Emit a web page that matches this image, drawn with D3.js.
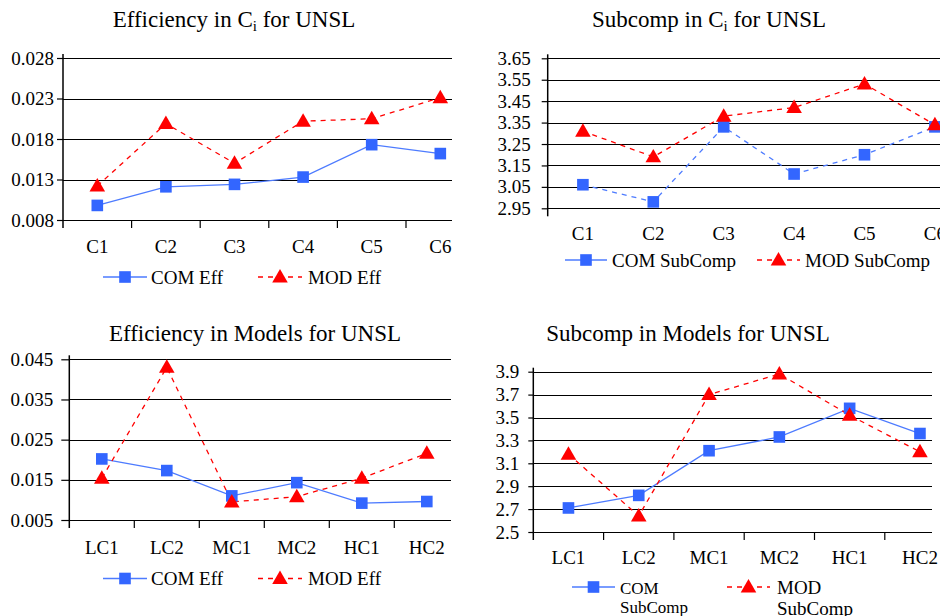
<!DOCTYPE html>
<html>
<head>
<meta charset="utf-8">
<script src="https://cdn.jsdelivr.net/npm/d3@7"></script>
</head>
<body style="margin:0;background:#fff">
<svg id="chart" width="940" height="616" style="display:block"></svg>
<script>
// ---------- data ----------
const catsC = ["C1", "C2", "C3", "C4", "C5", "C6"];
const catsM = ["LC1", "LC2", "MC1", "MC2", "HC1", "HC2"];

const effCiCOM = [0.0098, 0.0121, 0.0124, 0.0133, 0.0173, 0.0162];
const effCiMOD = [0.0122, 0.0199, 0.0150, 0.0202, 0.0205, 0.0231];

const subCiCOM = [3.06, 2.98, 3.33, 3.11, 3.20, 3.33];
const subCiMOD = [3.31, 3.19, 3.38, 3.42, 3.53, 3.34];

const effMCOM = [0.0202, 0.0173, 0.0110, 0.0143, 0.0092, 0.0096];
const effMMOD = [0.0154, 0.0430, 0.0095, 0.0108, 0.0154, 0.0216];

const subMCOM = [2.71, 2.82, 3.21, 3.33, 3.58, 3.36];
const subMMOD = [3.18, 2.64, 3.70, 3.88, 3.52, 3.20];

const effCiTicks = [0.008, 0.013, 0.018, 0.023, 0.028];
const subCiTicks = [2.95, 3.05, 3.15, 3.25, 3.35, 3.45, 3.55, 3.65];
const effMTicks = [0.005, 0.015, 0.025, 0.035, 0.045];
const subMTicks = [2.5, 2.7, 2.9, 3.1, 3.3, 3.5, 3.7, 3.9];

const titles = [
  ["Efficiency in C", "i", " for UNSL"],
  ["Subcomp in C", "i", " for UNSL"],
  ["Efficiency in Models for UNSL"],
  ["Subcomp in Models for UNSL"]
];
const legendCOM = ["COM Eff", "COM SubComp", "COM Eff", "COM|SubComp"];
const legendMOD = ["MOD Eff", "MOD SubComp", "MOD Eff", "MOD|SubComp"];

// ---------- panels (layout) ----------
const BLUE = "#3366ff", BLUE_LINE = "#4d7bff", RED = "#ff0000";
const FONT = "'Liberation Serif'";

const panels = [
  { cats: catsC, com: effCiCOM, mod: effCiMOD, ticks: effCiTicks, fmt: d3.format(".3f"),
    axisX: 63, yTop: 58, yBot: 220, step: 68.6, gridRight: 452,
    tickLen: 6, tickPad: 3, xTicks: true, catPad: 19.5, comDash: null,
    title: titles[0], titleX: 234, titleY: 27,
    leg: { y: 277, comX1: 103, comX2: 147, modX1: 258, modX2: 302, comText: 151, modText: 308, fs: 19 } },
  { cats: catsC, com: subCiCOM, mod: subCiMOD, ticks: subCiTicks, fmt: d3.format(".2f"),
    axisX: 547.7, yTop: 58.3, yBot: 208.3, step: 70.4, gridRight: 980,
    tickLen: 6, tickPad: 11, xTicks: false, catPad: 17.8, comDash: "5,5",
    title: titles[1], titleX: 709, titleY: 27,
    leg: { y: 260, comX1: 565, comX2: 607, modX1: 757, modX2: 800, comText: 612, modText: 805, fs: 19 } },
  { cats: catsM, com: effMCOM, mod: effMMOD, ticks: effMTicks, fmt: d3.format(".3f"),
    axisX: 69.3, yTop: 359.3, yBot: 520, step: 65, gridRight: 451,
    tickLen: 8, tickPad: 8, xTicks: true, catPad: 21, comDash: null,
    title: titles[2], titleX: 255, titleY: 341,
    leg: { y: 578.5, comX1: 103, comX2: 147, modX1: 258, modX2: 302, comText: 151, modText: 308, fs: 19 } },
  { cats: catsM, com: subMCOM, mod: subMMOD, ticks: subMTicks, fmt: d3.format(".1f"),
    axisX: 533.3, yTop: 371.7, yBot: 532, step: 70.3, gridRight: 932,
    tickLen: 5, tickPad: 9, xTicks: true, catPad: 19, comDash: null,
    title: titles[3], titleX: 688, titleY: 341,
    leg: { y: 587, comX1: 572, comX2: 615, modX1: 727, modX2: 770, comText: 620, modText: 777, fs: 17, fsMod: 19 } }
];

const svg = d3.select("#chart");
const square = d3.symbol().type(d3.symbolSquare).size(135);
const triangle = d3.symbol().type(d3.symbolTriangle).size(105);

panels.forEach((p, idx) => {
  const g = svg.append("g");
  const x = d3.scaleBand().domain(p.cats).range([p.axisX, p.axisX + p.step * p.cats.length]);
  const cx = c => x(c) + x.bandwidth() / 2;
  const y = d3.scaleLinear().domain([p.ticks[0], p.ticks[p.ticks.length - 1]]).range([p.yBot, p.yTop]);

  // title
  const t = g.append("text").attr("x", p.titleX).attr("y", p.titleY)
    .attr("text-anchor", "middle").style("font-family", FONT).style("font-size", "23px").attr("fill", "#000");
  t.append("tspan").text(p.title[0]);
  if (p.title.length > 1) {
    t.append("tspan").attr("dy", 4).style("font-size", "15px").text(p.title[1]);
    t.append("tspan").attr("dy", -4).text(p.title[2]);
  }

  // gridlines
  g.append("g").selectAll("line").data(p.ticks).join("line")
    .attr("x1", p.axisX).attr("x2", p.gridRight)
    .attr("y1", d => Math.round(y(d)) + 0.5).attr("y2", d => Math.round(y(d)) + 0.5)
    .attr("stroke", "#000").attr("stroke-width", 1.2);

  // y axis
  const ya = g.append("g").attr("transform", `translate(${p.axisX},0)`)
    .call(d3.axisLeft(y).tickValues(p.ticks).tickFormat(p.fmt).tickSize(p.tickLen).tickPadding(p.tickPad));
  ya.select(".domain").remove();
  ya.selectAll("text").style("font-family", FONT).style("font-size", "19px").attr("fill", "#000");
  ya.selectAll(".tick line").attr("stroke", "#000").attr("stroke-width", 1.2);
  g.append("line").attr("x1", p.axisX).attr("x2", p.axisX)
    .attr("y1", p.yTop - 4).attr("y2", p.yBot + 8)
    .attr("stroke", "#000").attr("stroke-width", 1.5);

  // x axis labels
  const xa = g.append("g").attr("transform", `translate(0,${p.yBot})`)
    .call(d3.axisBottom(x).tickSize(0).tickPadding(p.catPad));
  xa.select(".domain").remove();
  xa.selectAll("text").style("font-family", FONT).style("font-size", "19px").attr("fill", "#000");

  // x tick marks at band boundaries
  if (p.xTicks) {
    g.append("g").selectAll("line").data(p.cats.slice(1)).join("line")
      .attr("x1", d => x(d)).attr("x2", d => x(d))
      .attr("y1", p.yBot).attr("y2", p.yBot + 8)
      .attr("stroke", "#000").attr("stroke-width", 1.2);
  }

  // lines
  const line = d3.line().x((d, i) => cx(p.cats[i])).y(d => y(d));
  g.append("path").datum(p.com).attr("d", line).attr("fill", "none")
    .attr("stroke", BLUE_LINE).attr("stroke-width", 1.3)
    .attr("stroke-dasharray", p.comDash);
  g.append("path").datum(p.mod).attr("d", line).attr("fill", "none")
    .attr("stroke", RED).attr("stroke-width", 1.3).attr("stroke-dasharray", "5,5");

  // markers
  g.append("g").selectAll("path").data(p.com).join("path")
    .attr("d", square).attr("transform", (d, i) => `translate(${cx(p.cats[i])},${y(d)})`)
    .attr("fill", BLUE);
  g.append("g").selectAll("path").data(p.mod).join("path")
    .attr("d", triangle).attr("transform", (d, i) => `translate(${cx(p.cats[i])},${y(d) + 1})`)
    .attr("fill", RED);

  // legend
  const L = p.leg;
  const lg = g.append("g");
  lg.append("line").attr("x1", L.comX1).attr("x2", L.comX2).attr("y1", L.y).attr("y2", L.y)
    .attr("stroke", BLUE_LINE).attr("stroke-width", 1.3);
  lg.append("path").attr("d", square).attr("transform", `translate(${(L.comX1 + L.comX2) / 2},${L.y})`).attr("fill", BLUE);
  lg.append("line").attr("x1", L.modX1).attr("x2", L.modX2).attr("y1", L.y).attr("y2", L.y)
    .attr("stroke", RED).attr("stroke-width", 1.3).attr("stroke-dasharray", "5,5");
  lg.append("path").attr("d", triangle).attr("transform", `translate(${(L.modX1 + L.modX2) / 2},${L.y + 1})`).attr("fill", RED);

  const addText = (str, xPos, fs) => {
    const parts = str.split("|");
    const tx = lg.append("text").attr("x", xPos).attr("y", L.y + 6.5)
      .style("font-family", FONT).style("font-size", fs + "px").attr("fill", "#000");
    parts.forEach((s, k) => {
      tx.append("tspan").attr("x", xPos).attr("dy", k === 0 ? 0 : fs * 1.15).text(s);
    });
  };
  addText(legendCOM[idx], L.comText, L.fs);
  addText(legendMOD[idx], L.modText, L.fsMod || L.fs);
});
</script>
</body>
</html>
